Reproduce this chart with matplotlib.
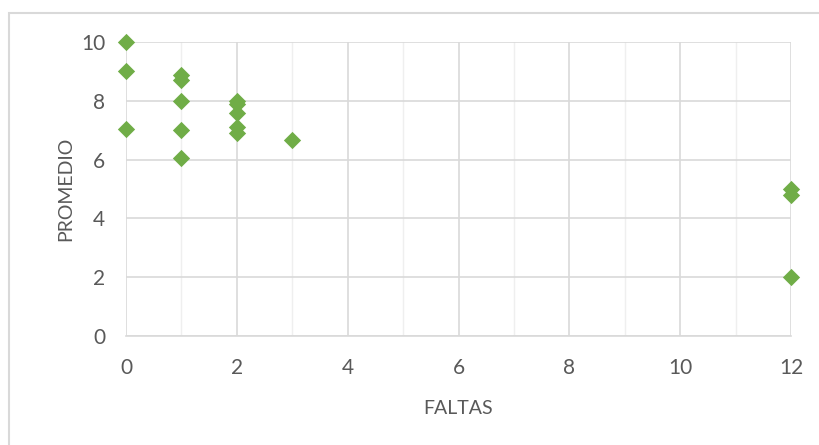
import matplotlib

matplotlib.use("Agg")
import matplotlib.pyplot as plt
from matplotlib.patches import Rectangle
from matplotlib.ticker import MultipleLocator

# Absences per student and their grade average
faltas = [0, 0, 0, 1, 1, 1, 1, 1, 2, 2, 2, 2, 2, 3, 12, 12, 12]
promedio = [10.0, 9.0, 7.05, 8.88, 8.7, 8.0, 7.0, 6.05, 8.0, 7.9, 7.6, 7.1, 6.92, 6.68, 5.0, 4.78, 2.0]

x_ticks = [0, 2, 4, 6, 8, 10, 12]
y_ticks = [0, 2, 4, 6, 8, 10]

GREEN = "#70AD47"
GRID = "#D9D9D9"
TEXT = "#595959"

plt.rcParams["font.family"] = ["Lato", "DejaVu Sans"]

fig = plt.figure(figsize=(8.2, 4.45), dpi=100)
ax = fig.add_axes([0.1537, 0.245, 0.811, 0.6605])

ax.scatter(faltas, promedio, marker="D", s=8.8 ** 2, color=GREEN, linewidths=0,
           zorder=3, clip_on=False)

ax.set_xlim(0, 12)
ax.set_ylim(0, 10)
ax.set_xticks(x_ticks)
ax.set_yticks(y_ticks)
ax.xaxis.set_minor_locator(MultipleLocator(1))
ax.grid(True, which="major", color=GRID, linewidth=1.2)
ax.grid(True, which="minor", axis="x", color="#EFEFEF", linewidth=1.0)
ax.set_axisbelow(True)
for side in ["top", "right", "left"]:
    ax.spines[side].set_visible(False)
ax.spines["bottom"].set_color(GRID)
ax.spines["bottom"].set_linewidth(1.2)

ax.tick_params(axis="both", which="both", length=0, labelsize=15, labelcolor=TEXT)
ax.tick_params(axis="x", pad=16)
ax.tick_params(axis="y", pad=15)
ax.set_xlabel("FALTAS", fontsize=14, color=TEXT, labelpad=16)
ax.set_ylabel("PROMEDIO", fontsize=14, color=TEXT, labelpad=5)

# chart-area outline
fig.patches.append(
    Rectangle((9 / 820, -0.1), 1.2, (445 - 13) / 445 + 0.1, transform=fig.transFigure,
              fill=False, edgecolor=GRID, linewidth=1.5)
)

fig.savefig("out.png", dpi=100, facecolor="white")
